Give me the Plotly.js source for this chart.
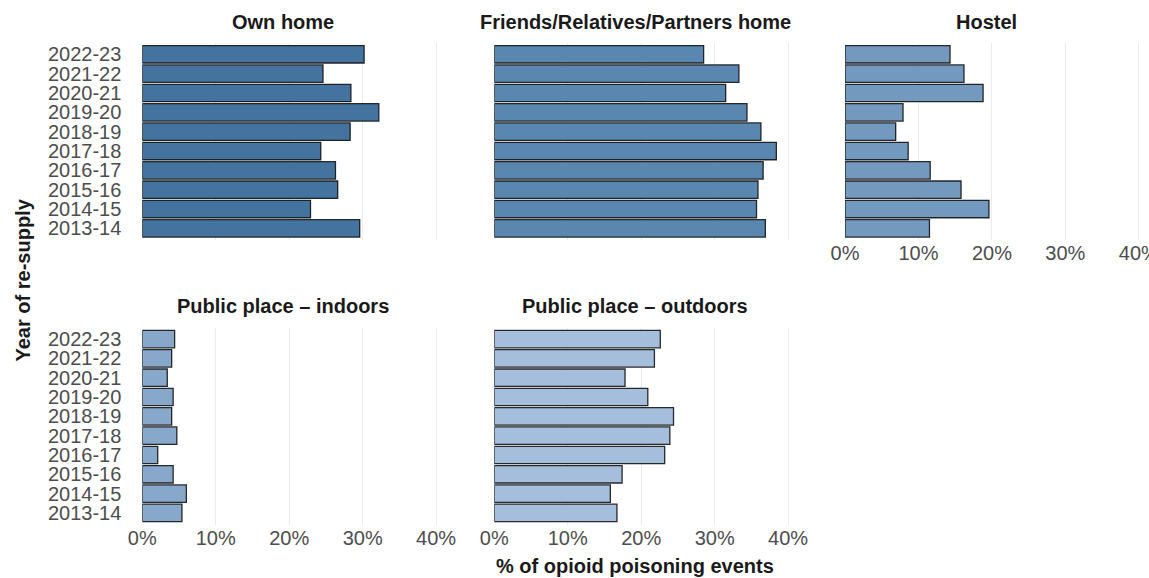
<!DOCTYPE html>
<html>
<head>
<meta charset="utf-8">
<script src="https://cdn.plot.ly/plotly-3.0.1.min.js"></script>
<style>html,body{margin:0;padding:0;background:#fff;}#chart{width:1149px;height:578px;}</style>
</head>
<body>
<div id="chart"></div>
<script>
const years = ["2013-14","2014-15","2015-16","2016-17","2017-18","2018-19","2019-20","2020-21","2021-22","2022-23"];
const panelTitles = ["Own home","Friends/Relatives/Partners home","Hostel","Public place – indoors","Public place – outdoors"];
// values (fraction), ordered 2013-14 ... 2022-23
const ownHome   = [0.296,0.229,0.266,0.263,0.243,0.283,0.322,0.284,0.246,0.302];
const friends   = [0.369,0.357,0.359,0.366,0.384,0.363,0.344,0.315,0.333,0.285];
const hostel    = [0.115,0.196,0.158,0.116,0.086,0.069,0.079,0.188,0.162,0.143];
const indoors   = [0.054,0.060,0.042,0.021,0.047,0.040,0.042,0.034,0.040,0.044];
const outdoors  = [0.167,0.158,0.174,0.232,0.239,0.244,0.209,0.178,0.218,0.226];
const barColors = ["#44739f","#5a87b0","#7399bf","#88a8cb","#a4bedc"];
const xTicks = [0,0.1,0.2,0.3,0.4];
const xTickText = ["0%","10%","20%","30%","40%"];

const W = 1149, H = 578;
const series = [ownHome, friends, hostel, indoors, outdoors];
// panel pixel boxes [left, right, top, bottom]
const pxPerUnit = 734.5;
const boxes = [
  [142.3, 142.3+0.42*pxPerUnit, 42.7, 240],
  [494.3, 494.3+0.42*pxPerUnit, 42.7, 240],
  [845, 1149, 42.7, 240],
  [142.3, 142.3+0.42*pxPerUnit, 327.5, 524.5],
  [494.3, 494.3+0.42*pxPerUnit, 327.5, 524.5]
];
const showX = [false,false,true,true,true];
const showY = [true,false,false,true,false];

const font = "Liberation Sans, Arial, sans-serif";
const fs = 20;
const traces = [];
const layout = {
  width: W, height: H,
  margin: {l:0,r:0,t:0,b:0},
  paper_bgcolor: "#fff", plot_bgcolor: "#fff",
  showlegend: false,
  bargap: 0.1,
  font: {family: font, size: fs, color: "#4d4d4d"},
  annotations: []
};

series.forEach((vals, i) => {
  const n = i === 0 ? "" : String(i+1);
  traces.push({
    type: "bar", orientation: "h",
    x: vals, y: years,
    xaxis: "x"+n, yaxis: "y"+n,
    marker: {color: barColors[i], line: {color: "rgba(20,20,20,0.9)", width: 1.3}},
    hoverinfo: "x+y"
  });
  const b = boxes[i];
  const xr = (b[1]-b[0])/pxPerUnit;
  layout["xaxis"+n] = {
    domain: [b[0]/W, b[1]/W],
    range: [0, xr],
    anchor: "y"+n,
    tickmode: "array", tickvals: xTicks, ticktext: xTickText,
    showticklabels: showX[i],
    ticklabeloverflow: "allow",
    showgrid: true, gridcolor: "#ebebeb", gridwidth: 1,
    zeroline: false, showline: false, ticks: "",
    ticklabelstandoff: -1,
    tickfont: {family: font, size: fs, color: "#4d4d4d"},
    fixedrange: true
  };
  layout["yaxis"+n] = {
    domain: [1-b[3]/H, 1-b[2]/H],
    range: [-0.6, 9.6],
    anchor: "x"+n,
    type: "category",
    categoryorder: "array", categoryarray: years,
    tickmode: "array", tickvals: years, ticktext: years,
    showticklabels: showY[i],
    showgrid: false, zeroline: false, showline: false, ticks: "",
    ticklabelstandoff: 20,
    tickfont: {family: font, size: fs, color: "#4d4d4d"},
    fixedrange: true
  };
  layout.annotations.push({
    text: "<b>"+panelTitles[i]+"</b>",
    xref: "paper", yref: "paper",
    x: (b[0]+141)/W, y: 1-(i<3 ? 22.3 : 306)/H,
    xanchor: "center", yanchor: "middle", showarrow: false,
    font: {family: font, size: fs, color: "#1a1a1a"}
  });
});

layout.annotations.push({
  text: "<b>% of opioid poisoning events</b>",
  xref: "paper", yref: "paper", x: 635/W, y: 1-566/H,
  xanchor: "center", yanchor: "middle", showarrow: false,
  font: {family: font, size: fs, color: "#1a1a1a"}
});
layout.annotations.push({
  text: "<b>Year of re-supply</b>",
  xref: "paper", yref: "paper", x: 22.5/W, y: 1-280/H,
  xanchor: "center", yanchor: "middle", showarrow: false, textangle: -90,
  font: {family: font, size: fs, color: "#1a1a1a"}
});

Plotly.newPlot("chart", traces, layout, {staticPlot: true, displayModeBar: false});
</script>
</body>
</html>
